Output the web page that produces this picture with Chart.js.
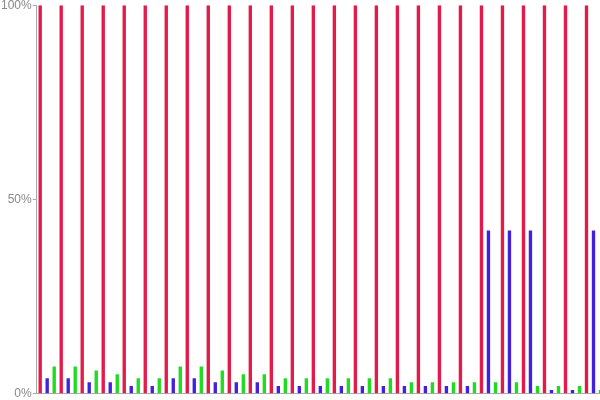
<!DOCTYPE html>
<html>
<head>
<meta charset="utf-8">
<script src="https://cdn.jsdelivr.net/npm/chart.js@4"></script>
<style>
html, body { margin: 0; padding: 0; overflow: hidden; background: #fff; }
#wrap { width: 604px; height: 405px; position: absolute; left: 0; top: -3px; }
</style>
</head>
<body>
<div id="wrap"><canvas id="c"></canvas></div>
<script>
const categories = Array.from({length: 27}, (_, i) => String(i + 1));
const redValues = [100,100,100,100,100,100,100,100,100,100,100,100,100,100,100,100,100,100,100,100,100,100,100,100,100,100,100];
const blueValues = [4,4,3,3,2,2,4,4,3,3,3,2,2,2,2,2,2,2,2,2,2,42,42,42,1,1,42];
const greenValues = [7,7,6,5,4,4,7,7,6,5,5,4,4,4,4,4,4,3,3,3,3,3,3,2,2,2,1];
const yTicks = [0, 50, 100];

new Chart(document.getElementById('c'), {
  type: 'bar',
  data: {
    labels: categories,
    datasets: [
      { data: redValues, backgroundColor: '#e31a4a' },
      { data: blueValues, backgroundColor: '#4120e0' },
      { data: greenValues, backgroundColor: '#20dc20' }
    ]
  },
  options: {
    responsive: true,
    maintainAspectRatio: false,
    animation: false,
    datasets: { bar: { barPercentage: 0.48, categoryPercentage: 1 } },
    plugins: { legend: { display: false }, tooltip: { enabled: false } },
    scales: {
      x: {
        ticks: { display: false },
        grid: { display: false, drawTicks: false },
        border: { display: true, color: '#aaa' }
      },
      y: {
        min: 0, max: 100,
        afterBuildTicks: (axis) => { axis.ticks = yTicks.map(v => ({ value: v })); },
        ticks: { color: '#888', font: { size: 12 }, padding: 1, callback: (v) => v + '%' },
        grid: { drawOnChartArea: false, tickLength: 4, color: '#aaa' },
        border: { color: '#aaa' }
      }
    }
  }
});
</script>
</body>
</html>
